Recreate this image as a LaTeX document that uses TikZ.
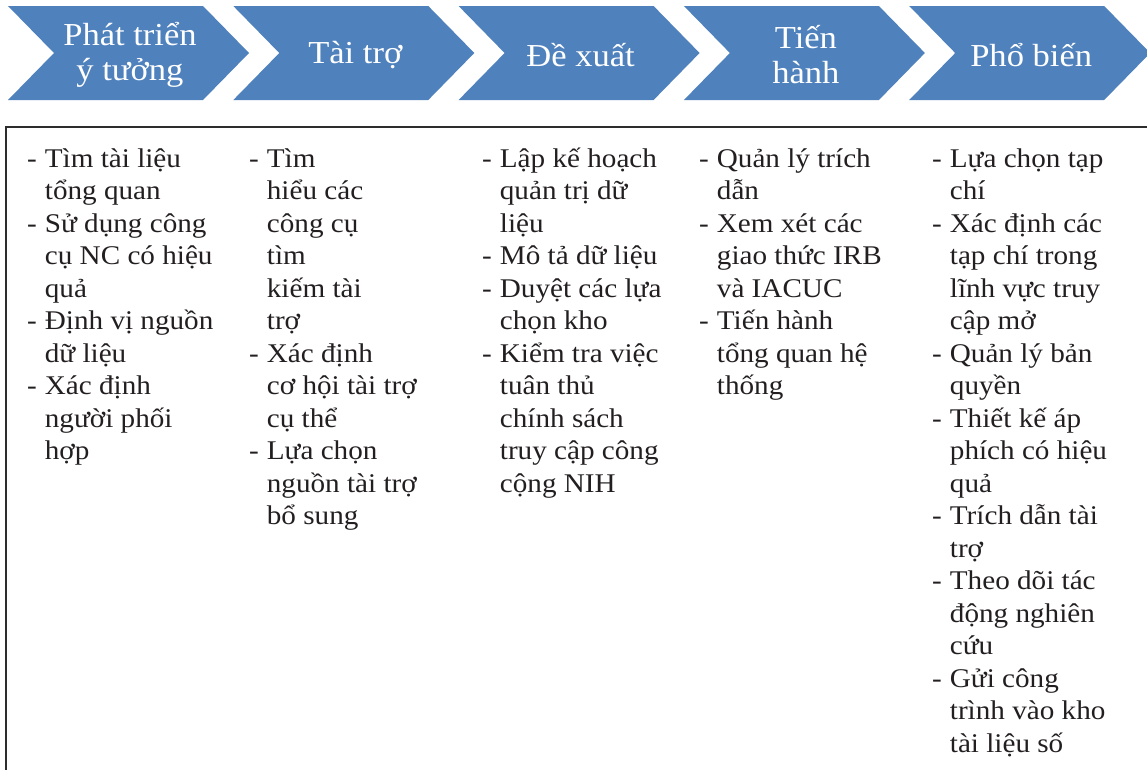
\documentclass[tikz,border=0pt]{standalone}
\usepackage{fontspec}
\setmainfont[FakeStretch=1.08]{Liberation Serif}
\usetikzlibrary{calc}

\definecolor{chevblue}{RGB}{79,129,189}
\definecolor{inkgray}{RGB}{35,31,32}
\definecolor{framegray}{RGB}{45,45,45}

\tikzset{
	chevron/.style = {fill = chevblue},
	stage/.style = {text = white, align = center, inner sep = 0pt, font = \fontsize{32}{35}\selectfont},
	tasks/.style = {anchor = base west, inner sep = 0pt, text = inkgray, font = \fontsize{27}{32.5}\selectfont},
	frame/.style = {draw = framegray, line width = 2pt}
}
\newcommand{\tasklist}[1]{\begin{tabular}[t]{@{}l@{\hspace{8pt}}l@{}}#1\end{tabular}}

\begin{document}
\begin{tikzpicture}[x = 1pt, y = -1pt]
			\useasboundingbox (0,0) rectangle (1147,769);
			\clip (0,0) rectangle (1147,769);
			
			\def\W{195};
			\def\D{46};
			
			% stages
			\foreach \name/\lbl [count = \i from 0] in {idea/{Phát triển\\ý tưởng}, fund/{Tài trợ}, prop/{Đề xuất}, cond/{Tiến\\hành}, diss/{Phổ biến}}
			{
				\pgfmathsetmacro{\xl}{8 + 225.3*\i}
				\fill[chevron] (\xl,6) -- ++(\W,0) -- ++(\D,47) -- ++(-\D,47) -- ++(-\W,0) -- ++(\D,-47) -- cycle;
				\node[stage] (\name) at (\xl + 122,55) {\lbl};
			}
			
			% task box
			\coordinate (box top left) at (6,127);
			\draw[frame] ($ (box top left) + (0,700) $) -- (box top left) -- ++(1200,0);
			
			\node[tasks] (idea tasks) at (27,167) {\tasklist{
				- & Tìm tài liệu \\ & tổng quan \\
				- & Sử dụng công \\ & cụ NC có hiệu \\ & quả \\
				- & Định vị nguồn \\ & dữ liệu \\
				- & Xác định \\ & người phối \\ & hợp}};
			\node[tasks] (fund tasks) at (249,167) {\tasklist{
				- & Tìm \\ & hiểu các \\ & công cụ \\ & tìm \\ & kiếm tài \\ & trợ \\
				- & Xác định \\ & cơ hội tài trợ \\ & cụ thể \\
				- & Lựa chọn \\ & nguồn tài trợ \\ & bổ sung}};
			\node[tasks] (prop tasks) at (482,167) {\tasklist{
				- & Lập kế hoạch \\ & quản trị dữ \\ & liệu \\
				- & Mô tả dữ liệu \\
				- & Duyệt các lựa \\ & chọn kho \\
				- & Kiểm tra việc \\ & tuân thủ \\ & chính sách \\ & truy cập công \\ & cộng NIH}};
			\node[tasks] (cond tasks) at (699,167) {\tasklist{
				- & Quản lý trích \\ & dẫn \\
				- & Xem xét các \\ & giao thức IRB \\ & và IACUC \\
				- & Tiến hành \\ & tổng quan hệ \\ & thống}};
			\node[tasks] (diss tasks) at (932,167) {\tasklist{
				- & Lựa chọn tạp \\ & chí \\
				- & Xác định các \\ & tạp chí trong \\ & lĩnh vực truy \\ & cập mở \\
				- & Quản lý bản \\ & quyền \\
				- & Thiết kế áp \\ & phích có hiệu \\ & quả \\
				- & Trích dẫn tài \\ & trợ \\
				- & Theo dõi tác \\ & động nghiên \\ & cứu \\
				- & Gửi công \\ & trình vào kho \\ & tài liệu số}};
		\end{tikzpicture}
\end{document}
